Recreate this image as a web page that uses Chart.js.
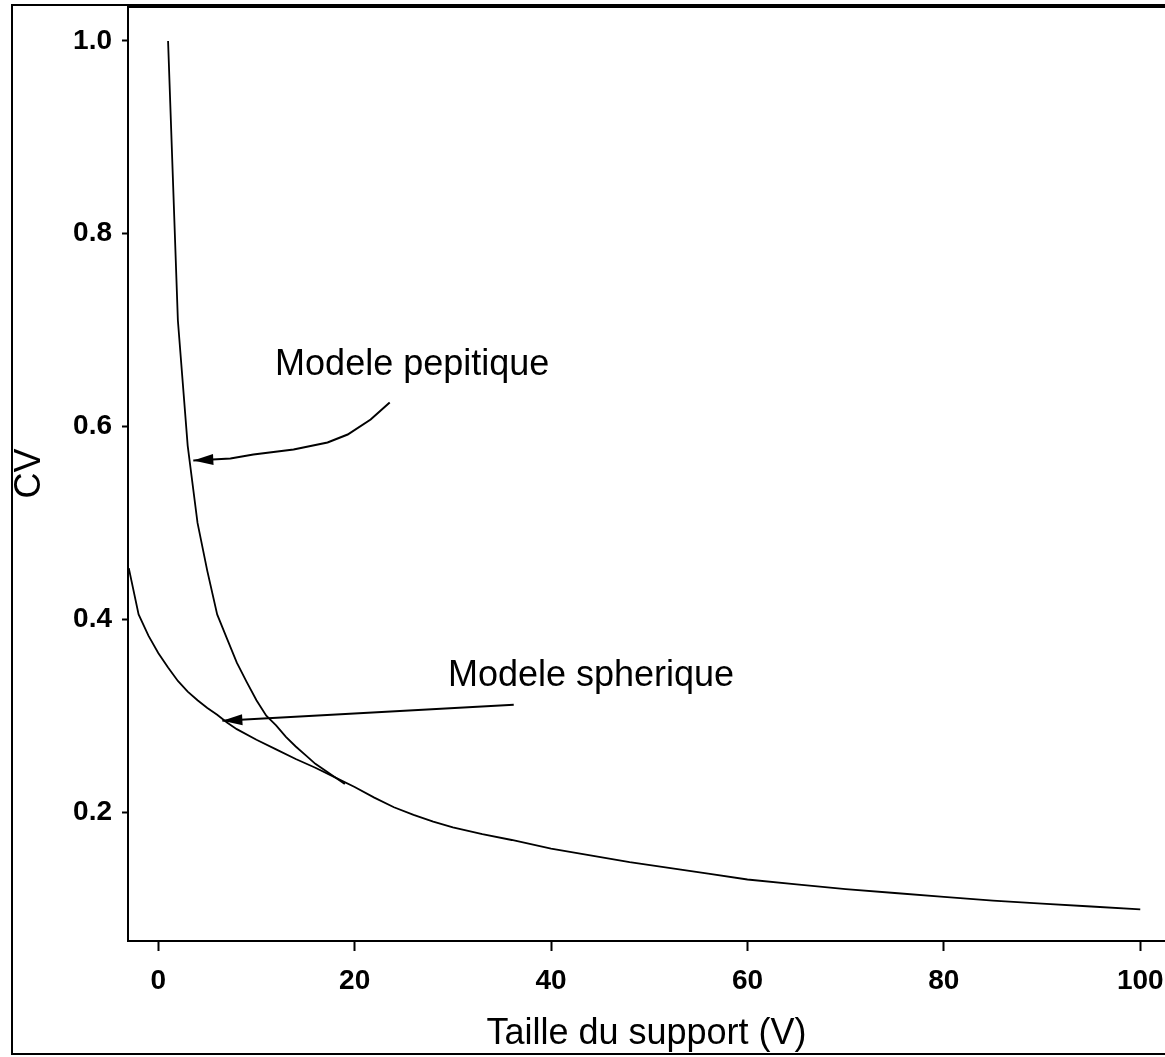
<!DOCTYPE html>
<html>
<head>
<meta charset="utf-8">
<script src="https://cdn.jsdelivr.net/npm/chart.js@4.4.0/dist/chart.umd.min.js"></script>
<style>
  html, body { margin: 0; padding: 0; background: #fff; }
  #wrap { width: 1165px; height: 1057px; }
</style>
</head>
<body>
<div id="wrap"><canvas id="cv"></canvas></div>
<script>
// Values (support size V, coefficient of variation CV)
const pepX = [1, 2, 3, 4, 5, 6, 7, 8, 9, 10, 11, 12, 13, 14, 15, 16, 17, 18, 19];
const pepY = [1.0, 0.71, 0.58, 0.50, 0.45, 0.405, 0.38, 0.355, 0.335, 0.316, 0.30, 0.29, 0.278, 0.268, 0.259, 0.25, 0.243, 0.236, 0.229];

const sphX = [-3, -2, -1, 0, 1, 2, 3, 4, 5, 6, 7, 8, 10, 12, 14, 16, 18, 20, 22, 24, 26, 28, 30, 33, 36, 40, 44, 48, 52, 56, 60, 65, 70, 75, 80, 85, 90, 95, 100];
const sphY = [0.453, 0.405, 0.383, 0.365, 0.350, 0.336, 0.325, 0.316, 0.308, 0.301, 0.293, 0.286, 0.275, 0.265, 0.255, 0.246, 0.236, 0.226, 0.215, 0.205, 0.197, 0.190, 0.184, 0.177, 0.171, 0.162, 0.155, 0.148, 0.142, 0.136, 0.130, 0.125, 0.120, 0.116, 0.112, 0.108, 0.105, 0.102, 0.099];

const xTicks = [0, 20, 40, 60, 80, 100];
const yTicks = [0.2, 0.4, 0.6, 0.8, 1.0];
const xTitle = 'Taille du support (V)';
const yTitle = 'CV';

// annotations, in data units
const pepLabel = ['Modele pepitique', 11.9, 0.664];
const sphLabel = ['Modele spherique', 29.5, 0.341];
const pepArrowX = [23.57, 21.63, 19.29, 17.24, 13.78, 9.69, 7.35, 5.51, 3.57];
const pepArrowY = [0.6249, 0.6073, 0.5917, 0.5834, 0.5761, 0.5709, 0.5668, 0.5657, 0.5647];
const sphArrowX = [36.2, 6.53];
const sphArrowY = [0.3112, 0.2946];

const FONT = '"Liberation Sans", Arial, Helvetica, sans-serif';

function drawArrow(ctx, xs, ys, sx, sy) {
  const pts = xs.map((v, i) => [sx.getPixelForValue(v), sy.getPixelForValue(ys[i])]);
  ctx.lineWidth = 2;
  ctx.beginPath();
  pts.forEach((p, i) => i ? ctx.lineTo(p[0], p[1]) : ctx.moveTo(p[0], p[1]));
  ctx.stroke();
  // head at the last point
  const tip = pts[pts.length - 1], prev = pts[pts.length - 2];
  const a = Math.atan2(tip[1] - prev[1], tip[0] - prev[0]);
  const len = 20, half = 5.5;
  ctx.beginPath();
  ctx.moveTo(tip[0], tip[1]);
  ctx.lineTo(tip[0] - len * Math.cos(a) + half * Math.sin(a), tip[1] - len * Math.sin(a) - half * Math.cos(a));
  ctx.lineTo(tip[0] - len * Math.cos(a) - half * Math.sin(a), tip[1] - len * Math.sin(a) + half * Math.cos(a));
  ctx.closePath();
  ctx.fill();
}

const frame = {
  id: 'frame',
  afterDraw(chart) {
    const { ctx, chartArea: a, scales: { x, y } } = chart;
    ctx.save();
    ctx.strokeStyle = '#000';
    ctx.fillStyle = '#000';
    ctx.lineWidth = 2;
    ctx.beginPath();
    ctx.moveTo(chart.width + 5, 5);
    ctx.lineTo(12, 5);
    ctx.lineTo(12, 1054);
    ctx.lineTo(chart.width + 5, 1054);
    ctx.stroke();
    ctx.lineWidth = 4;
    ctx.beginPath();
    ctx.moveTo(a.left - 1, a.top);
    ctx.lineTo(chart.width, a.top);
    ctx.stroke();

    ctx.font = '36px ' + FONT;
    ctx.textAlign = 'left';
    ctx.textBaseline = 'middle';
    [pepLabel, sphLabel].forEach(l => ctx.fillText(l[0], x.getPixelForValue(l[1]), y.getPixelForValue(l[2])));

    drawArrow(ctx, pepArrowX, pepArrowY, x, y);
    drawArrow(ctx, sphArrowX, sphArrowY, x, y);
    ctx.restore();
  }
};

new Chart(document.getElementById('cv'), {
  type: 'line',
  data: {
    datasets: [{
      label: 'Modele pepitique',
      data: pepX.map((v, i) => ({ x: v, y: pepY[i] })),
      borderColor: '#000', borderWidth: 1.8, pointRadius: 0, tension: 0, fill: false
    }, {
      label: 'Modele spherique',
      data: sphX.map((v, i) => ({ x: v, y: sphY[i] })),
      borderColor: '#000', borderWidth: 1.8, pointRadius: 0, tension: 0, fill: false
    }]
  },
  options: {
    responsive: true,
    maintainAspectRatio: false,
    animation: false,
    devicePixelRatio: 1,
    layout: { padding: { top: 6, left: 0, right: 0, bottom: 0 } },
    plugins: { legend: { display: false }, tooltip: { enabled: false } },
    scales: {
      x: {
        type: 'linear',
        min: -3.08, max: 102.52,
        afterBuildTicks: s => { s.ticks = xTicks.map(v => ({ value: v })); },
        afterFit: s => { s.height = 116; s.paddingLeft = 0; s.paddingRight = 0; },
        ticks: { color: '#000', font: { family: FONT, size: 28, weight: 'bold' }, padding: 13, maxRotation: 0, autoSkip: false, callback: v => String(v) },
        grid: { drawOnChartArea: false, drawTicks: true, tickLength: 10, tickWidth: 2, tickColor: '#000' },
        border: { display: true, color: '#000', width: 2 },
        title: { display: true, text: xTitle, color: '#000', font: { family: FONT, size: 36 }, padding: { top: 0, bottom: 1 } }
      },
      y: {
        min: 0.0662, max: 1.0363,
        afterBuildTicks: s => { s.ticks = yTicks.map(v => ({ value: v })); },
        afterFit: s => { s.width = 128; s.paddingTop = 0; s.paddingBottom = 0; },
        ticks: { color: '#000', font: { family: FONT, size: 28, weight: 'bold' }, padding: 10, autoSkip: false, callback: v => v.toFixed(1) },
        grid: { drawOnChartArea: false, drawTicks: true, tickLength: 6, tickWidth: 2, tickColor: '#000' },
        border: { display: true, color: '#000', width: 2 },
        title: { display: true, text: yTitle, color: '#000', font: { family: FONT, size: 36 }, padding: { top: 8, bottom: 0 } }
      }
    }
  },
  plugins: [frame]
});
</script>
</body>
</html>
